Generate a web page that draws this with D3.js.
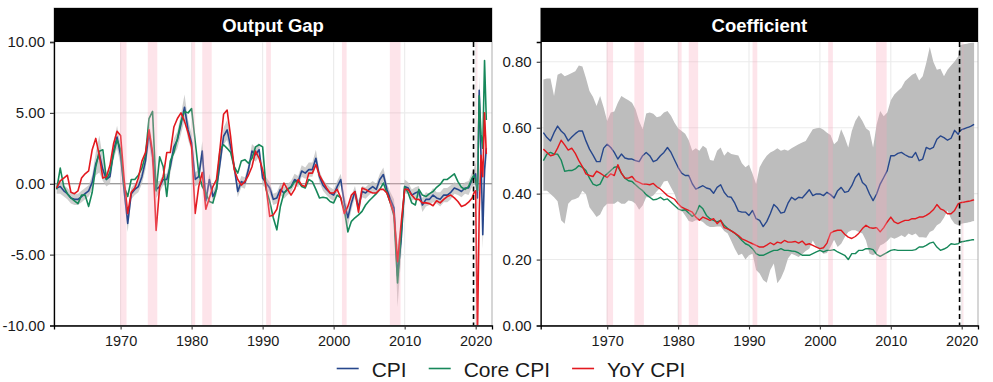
<!DOCTYPE html>
<html>
<head>
<meta charset="utf-8">
<script src="https://cdn.jsdelivr.net/npm/d3@7"></script>
<style>
body { margin: 0; background: #fff; }
svg { display: block; font-family: "Liberation Sans", Arial, sans-serif; }
</style>
</head>
<body>
<div id="display"></div>
<script>
// half-year steps to 2019.5, then quarters
var dates = d3.range(1961, 2020, 0.5).concat([2019.75, 2020, 2020.25, 2020.5, 2020.75, 2021, 2021.25, 2021.5, 2021.75]);

var seriesNames = ["CPI", "Core CPI", "YoY CPI"];
var panelTitles = ["Output Gap", "Coefficient"];

var recessionStart = [1969.92, 1973.83, 1980.0, 1981.5, 1990.5, 2001.17, 2007.92, 2020.08];
var recessionEnd = [1970.83, 1975.17, 1980.5, 1982.83, 1991.17, 2001.83, 2009.42, 2020.25];
var sampleEnd = 2019.7;

// output gap (left)
var gapCpi = [
  -0.3,-0.2,-0.5,-0.7,-1.0,-1.1,-1.1,-0.9,-0.7,-0.5,
  0.1,1.4,2.1,1.0,0.3,0.5,2.3,3.3,2.0,-0.5,
  -2.8,-0.7,-0.4,-0.2,0.5,1.6,3.6,2.0,-0.4,-0.2,
  0.3,0.3,1.2,2.6,3.1,4.2,5.4,3.8,2.9,0.3,
  0.5,2.3,-1.2,0.3,-0.9,-0.4,1.45,3.35,3.8,2.6,
  1.2,-0.55,0.15,0.05,1.0,2.3,2.05,2.4,0.4,0.05,
  -0.3,-1.1,-1.0,-0.4,-0.65,-0.4,-0.2,0.3,0.15,0.9,
  0.75,1.0,1.0,1.8,0.5,-0.1,-0.4,-0.65,-0.8,-0.2,
  0.3,-1.35,-2.4,-1.35,-0.55,-1.7,-0.55,-0.65,-0.4,-0.2,
  -0.4,0.3,0.65,-0.4,-1.1,-1.7,-6.5,-4.0,-0.2,-0.3,
  -0.8,-0.65,-0.55,-1.5,-1.1,-1.1,-0.8,-1.0,-1.1,-0.8,
  -0.8,-0.6,-0.3,-0.4,-0.55,-0.3,-0.3,0.3,
  0.5,0.7,-1.0,6.6,2.0,-3.6,1.0,2.5,null];
var gapCore = [
  -0.4,1.1,-0.2,-0.7,-1.0,-1.2,-1.4,-0.8,-0.8,-1.6,
  -0.6,1.2,2.3,2.4,0.3,0.8,2.1,3.1,2.4,-0.2,
  -0.9,0.3,0.3,0.6,1.1,2.0,4.6,5.1,-0.5,1.9,
  1.2,-0.9,1.6,2.2,3.2,4.4,5.1,5.0,5.3,3.0,
  0.75,-0.2,-0.65,-1.25,-1.35,-0.4,2.4,2.75,2.5,2.2,
  1.2,0.75,1.6,1.7,1.45,1.8,2.6,2.75,2.6,-0.4,
  -1.25,-2.4,-3.25,-1.6,-0.65,-0.4,-0.25,0.15,0.15,-0.2,
  -0.3,0.3,0.15,-0.4,-1.0,-0.95,-1.0,-1.25,-1.35,-0.8,
  -1.0,-1.85,-3.4,-2.65,-2.4,-2.2,-1.95,-1.5,-1.2,-0.95,
  -0.7,-0.4,0.05,-0.65,-1.35,-2.3,-7.0,-3.5,-0.2,-0.65,
  -1.35,-1.5,-0.4,-0.8,-0.9,-0.7,-0.55,-0.25,-0.05,0.3,
  0.3,0.5,0.7,0.15,-0.25,-0.4,-0.2,0.4,
  0.6,0.3,-0.5,6.2,3.5,2.5,8.7,4.5,null];
var gapYoy = [
  -0.3,0.2,0.4,0.6,-0.6,-0.7,-0.5,0.4,0.7,0.9,
  2.4,3.2,2.0,0.4,0.5,1.3,2.8,3.7,3.4,0.3,
  -2.1,-0.6,-0.3,0.4,1.6,2.2,3.8,2.2,-3.3,-0.2,
  0.5,2.2,2.2,4.0,4.6,5.0,4.4,3.6,2.6,-2.1,
  -0.2,0.8,-1.8,-1.0,-0.2,0.3,2.5,4.9,5.2,3.3,
  1.0,0.3,-0.1,0.15,0.6,1.2,2.3,1.8,1.0,-0.3,
  -2.3,-2.2,-1.8,-0.65,0.05,-0.4,-0.8,-0.4,0.3,-0.1,
  -0.2,0.75,0.75,1.35,0.6,0.15,-0.3,-0.65,-0.65,-0.4,
  -1.0,-2.1,-1.6,-0.8,-0.55,-2.0,-0.3,-0.4,-0.55,-0.65,
  -0.65,-0.4,-0.4,-0.65,-1.35,-2.1,-5.5,-2.8,-0.4,-0.4,
  -0.8,-1.1,-1.1,-1.35,-1.35,-1.4,-1.55,-1.2,-1.35,-1.1,
  -0.9,-0.8,-1.0,-1.25,-1.6,-1.5,-1.3,-1.0,
  -0.65,-0.5,-10.8,-2.0,2.0,0.5,5.0,2.1,null];
// half width of the grey band round the CPI gap
var gapBand = [
  0.4,0.5,0.4,0.4,0.4,0.4,0.4,0.4,0.4,0.4,
  0.5,0.8,1.3,0.8,0.5,0.5,0.6,0.8,0.7,0.5,
  0.6,0.4,0.4,0.4,0.5,0.6,0.8,0.8,0.6,0.4,
  0.4,0.4,0.5,0.6,0.6,0.7,0.9,0.7,0.6,0.5,
  0.5,0.7,0.5,0.4,0.4,0.4,0.5,0.6,0.7,0.6,
  0.5,0.4,0.4,0.4,0.4,0.5,0.5,0.5,0.5,0.4,
  0.4,0.4,0.4,0.4,0.4,0.4,0.4,0.4,0.4,0.4,
  0.4,0.5,0.5,0.6,0.4,0.4,0.4,0.4,0.4,0.4,
  0.4,0.5,0.6,0.5,0.4,0.5,0.4,0.4,0.4,0.4,
  0.4,0.4,0.5,0.4,0.5,0.6,2.2,1.2,0.5,0.4,
  0.4,0.4,0.4,0.5,0.5,0.4,0.5,0.4,0.5,0.5,
  0.5,0.5,0.4,0.4,0.4,0.4,0.5,0.5,
  0.6,0.8,1.0,1.0,1.0,1.0,1.0,1.0,null];

// coefficient (right)
var coefCpi = [
  0.585,0.57,0.56,0.585,0.605,0.59,0.58,0.56,0.572,0.582,
  0.59,0.59,0.56,0.535,0.517,0.497,0.497,0.538,0.55,0.54,
  0.525,0.505,0.52,0.508,0.505,0.505,0.5,0.497,0.515,0.525,
  0.515,0.497,0.502,0.515,0.525,0.54,0.525,0.502,0.48,0.462,
  0.455,0.455,0.43,0.414,0.419,0.424,0.417,0.414,0.401,0.419,
  0.427,0.404,0.391,0.389,0.371,0.347,0.344,0.344,0.334,0.349,
  0.324,0.319,0.30,0.315,0.339,0.367,0.357,0.341,0.344,0.371,
  0.389,0.381,0.389,0.387,0.399,0.412,0.394,0.399,0.399,0.394,
  0.404,0.397,0.387,0.409,0.419,0.404,0.407,0.424,0.449,0.462,
  0.434,0.424,0.399,0.379,0.399,0.429,0.449,0.47,0.515,0.515,
  0.522,0.525,0.518,0.512,0.51,0.525,0.5,0.505,0.54,0.535,
  0.54,0.565,0.575,0.57,0.562,0.568,0.592,0.58,
  0.59,0.594,0.596,0.598,0.6,0.602,0.604,0.607,0.61];
var coefCore = [
  0.5,0.52,0.525,0.52,0.52,0.502,0.468,0.47,0.47,0.475,
  0.485,0.48,0.47,0.447,0.429,0.424,0.429,0.451,0.46,0.47,
  0.48,0.482,0.462,0.447,0.439,0.437,0.427,0.417,0.409,0.397,
  0.389,0.381,0.383,0.389,0.381,0.384,0.374,0.364,0.354,0.349,
  0.351,0.341,0.331,0.339,0.364,0.354,0.334,0.324,0.319,0.314,
  0.319,0.304,0.294,0.287,0.28,0.27,0.258,0.248,0.243,0.233,
  0.218,0.213,0.213,0.218,0.223,0.228,0.228,0.233,0.228,0.228,
  0.226,0.225,0.22,0.213,0.213,0.213,0.218,0.223,0.228,0.223,
  0.228,0.228,0.23,0.223,0.218,0.213,0.2,0.218,0.218,0.228,
  0.228,0.233,0.233,0.23,0.216,0.21,0.216,0.222,0.228,0.23,
  0.228,0.228,0.228,0.228,0.228,0.23,0.238,0.238,0.243,0.25,
  0.253,0.238,0.228,0.232,0.238,0.248,0.246,0.248,
  0.252,0.254,0.255,0.256,0.257,0.258,0.259,0.26,0.26];
var coefYoy = [
  0.535,0.525,0.515,0.518,0.538,0.562,0.548,0.532,0.538,0.522,
  0.5,0.482,0.46,0.455,0.452,0.468,0.462,0.455,0.449,0.46,
  0.455,0.488,0.462,0.447,0.447,0.452,0.439,0.434,0.429,0.429,
  0.427,0.431,0.421,0.414,0.404,0.394,0.389,0.383,0.369,0.359,
  0.354,0.349,0.344,0.329,0.319,0.329,0.324,0.319,0.324,0.309,
  0.319,0.297,0.293,0.287,0.28,0.273,0.263,0.258,0.253,0.248,
  0.243,0.238,0.238,0.244,0.251,0.245,0.253,0.25,0.258,0.253,
  0.253,0.255,0.25,0.256,0.245,0.248,0.243,0.238,0.233,0.236,
  0.25,0.28,0.286,0.289,0.289,0.277,0.268,0.264,0.27,0.28,
  0.294,0.304,0.297,0.295,0.297,0.284,0.297,0.314,0.329,0.314,
  0.309,0.314,0.319,0.319,0.324,0.324,0.329,0.329,0.334,0.341,
  0.351,0.367,0.354,0.349,0.339,0.339,0.349,0.369,
  0.372,0.373,0.374,0.375,0.376,0.377,0.378,0.38,0.381];
var coefHigh = [
  0.746,0.749,0.749,0.696,0.761,0.766,0.756,0.761,0.766,0.771,
  0.789,0.786,0.751,0.711,0.693,0.666,0.696,0.661,0.62,0.646,
  0.649,0.676,0.696,0.689,0.683,0.676,0.656,0.62,0.595,0.643,
  0.646,0.642,0.632,0.635,0.646,0.651,0.636,0.615,0.598,0.59,
  0.582,0.562,0.53,0.538,0.53,0.545,0.538,0.502,0.5,0.53,
  0.54,0.515,0.528,0.52,0.518,0.516,0.492,0.48,0.488,0.46,
  0.429,0.48,0.5,0.515,0.525,0.53,0.538,0.53,0.534,0.53,
  0.538,0.544,0.55,0.555,0.56,0.578,0.595,0.598,0.6,0.594,
  0.585,0.578,0.55,0.56,0.595,0.57,0.54,0.59,0.62,0.638,
  0.62,0.598,0.59,0.54,0.61,0.651,0.635,0.646,0.683,0.701,
  0.711,0.721,0.741,0.751,0.761,0.766,0.743,0.756,0.796,0.845,
  0.80,0.776,0.779,0.756,0.776,0.789,0.801,0.816,
  0.85,0.852,0.853,0.854,0.855,0.856,0.857,0.858,0.858];
var coefLow = [
  0.409,0.409,0.399,0.389,0.377,0.319,0.309,0.369,0.381,0.384,
  0.389,0.409,0.399,0.359,0.344,0.329,0.337,0.359,0.369,0.369,
  0.369,0.377,0.369,0.369,0.379,0.377,0.369,0.351,0.364,0.389,
  0.389,0.394,0.407,0.419,0.437,0.439,0.419,0.399,0.367,0.349,
  0.334,0.317,0.314,0.319,0.319,0.314,0.304,0.299,0.299,0.3,
  0.3,0.287,0.279,0.256,0.233,0.213,0.218,0.2,0.213,0.218,
  0.168,0.158,0.138,0.13,0.168,0.188,0.128,0.143,0.168,0.203,
  0.218,0.213,0.208,0.216,0.226,0.233,0.258,0.238,0.228,0.218,
  0.22,0.238,0.26,0.238,0.248,0.268,0.284,0.289,0.289,0.284,
  0.279,0.258,0.218,0.213,0.22,0.243,0.248,0.256,0.268,0.263,
  0.268,0.274,0.268,0.279,0.274,0.279,0.268,0.268,0.266,0.284,
  0.289,0.304,0.311,0.327,0.349,0.324,0.309,0.304,
  0.307,0.309,0.31,0.311,0.312,0.313,0.314,0.316,0.317];

var gapTicks = [-10, -5, 0, 5, 10];
var coefTicks = [0, 0.2, 0.4, 0.6, 0.8];
var yearTicks = [1970, 1980, 1990, 2000, 2010, 2020];

var colors = ["#27478c", "#17885a", "#e3191f"];

var width = 993, height = 382;
var plotTop = 42, plotBottom = 325.5, stripTop = 8;

var svg = d3.select("#display")
    .append("svg")
    .attr("width", width)
    .attr("height", height);

var idx = d3.range(dates.length);

function drawPanel(p) {
  var x = d3.scaleLinear().domain([1960.62, 2022.3]).range([p.left, p.right]);
  var y = d3.scaleLinear().domain(p.yDomain).range([plotBottom, plotTop]);
  var g = svg.append("g");

  g.append("clipPath").attr("id", p.id + "-clip")
    .append("rect")
      .attr("x", p.left).attr("y", plotTop)
      .attr("width", p.right - p.left).attr("height", plotBottom - plotTop);

  // grid
  g.append("g").selectAll("line").data(yearTicks).join("line")
      .attr("x1", d => x(d)).attr("x2", d => x(d))
      .attr("y1", plotTop).attr("y2", plotBottom)
      .attr("stroke", "#ebebeb").attr("stroke-width", 1.1);
  g.append("g").selectAll("line").data(p.ticks).join("line")
      .attr("x1", p.left).attr("x2", p.right)
      .attr("y1", d => y(d)).attr("y2", d => y(d))
      .attr("stroke", "#ebebeb").attr("stroke-width", 1.1);

  if (p.zeroLine) {
    g.append("line")
        .attr("x1", p.left).attr("x2", p.right)
        .attr("y1", y(0)).attr("y2", y(0))
        .attr("stroke", "#808080").attr("stroke-width", 1.1);
  }

  var body = g.append("g").attr("clip-path", "url(#" + p.id + "-clip)");

  var area = d3.area()
      .defined(i => p.low(i) != null)
      .x(i => x(dates[i]))
      .y0(i => y(p.low(i)))
      .y1(i => y(p.high(i)));
  body.append("path")
      .datum(idx)
      .attr("fill", "#bdbdbd")
      .attr("opacity", p.bandOpacity)
      .attr("d", area);

  p.series.forEach(function(s, k) {
    var line = d3.line()
        .defined(i => s[i] != null)
        .x(i => x(dates[i]))
        .y(i => y(s[i]));
    body.append("path")
        .datum(idx)
        .attr("fill", "none")
        .attr("stroke", colors[k])
        .attr("stroke-width", p.lineWidth)
        .attr("stroke-linejoin", "round")
        .attr("d", line);
  });

  // recessions on top
  body.append("g").selectAll("rect").data(recessionStart).join("rect")
      .attr("x", d => x(d))
      .attr("width", (d, i) => x(recessionEnd[i]) - x(d))
      .attr("y", plotTop).attr("height", plotBottom - plotTop)
      .attr("fill", "#f8a5b8").attr("opacity", 0.3);

  g.append("line")
      .attr("x1", x(sampleEnd)).attr("x2", x(sampleEnd))
      .attr("y1", plotTop).attr("y2", plotBottom)
      .attr("stroke", "#000").attr("stroke-width", 1.6)
      .attr("stroke-dasharray", "5,3.5");

  // frame + strip
  g.append("rect")
      .attr("x", p.left).attr("y", stripTop)
      .attr("width", p.right - p.left).attr("height", plotBottom - stripTop)
      .attr("fill", "none").attr("stroke", "#9a9a9a").attr("stroke-width", 0.8);
  g.append("rect")
      .attr("x", p.left).attr("y", stripTop)
      .attr("width", p.right - p.left).attr("height", plotTop - stripTop)
      .attr("fill", "#000");
  g.append("text")
      .attr("x", (p.left + p.right) / 2).attr("y", 32)
      .attr("text-anchor", "middle")
      .attr("fill", "#fff")
      .style("font-size", "18.5px").style("font-weight", "bold")
      .text(p.title);

  var yAxis = d3.axisLeft(y).tickValues(p.ticks).tickSize(4).tickPadding(5)
      .tickFormat(d => d.toFixed(2));
  var ya = g.append("g").attr("transform", "translate(" + p.left + ",0)").call(yAxis);
  var xAxis = d3.axisBottom(x).tickValues(yearTicks).tickSize(4).tickPadding(6)
      .tickFormat(d => String(d));
  var xa = g.append("g").attr("transform", "translate(0," + plotBottom + ")").call(xAxis);

  [ya, xa].forEach(function(a) {
    a.select(".domain").attr("stroke", "#000").attr("stroke-width", 1.3);
    a.selectAll(".tick line").attr("stroke", "#333").attr("stroke-width", 1.1);
    a.selectAll(".tick text").attr("fill", "#1a1a1a")
        .style("font-family", "Liberation Sans, Arial, sans-serif");
  });
  ya.selectAll(".tick text").style("font-size", "15px");
  xa.selectAll(".tick text").style("font-size", "14.5px");
}

drawPanel({
  id: "gap", title: panelTitles[0], left: 54, right: 492,
  yDomain: [-10, 10], ticks: gapTicks, zeroLine: true,
  series: [gapCpi, gapCore, gapYoy], lineWidth: 1.6,
  low: i => gapCpi[i] == null ? null : gapCpi[i] - gapBand[i],
  high: i => gapCpi[i] + gapBand[i],
  bandOpacity: 0.75
});

drawPanel({
  id: "coef", title: panelTitles[1], left: 540.7, right: 978,
  yDomain: [0, 0.86], ticks: coefTicks, zeroLine: false,
  series: [coefCpi, coefCore, coefYoy], lineWidth: 1.4,
  low: i => coefLow[i], high: i => coefHigh[i],
  bandOpacity: 1
});

// legend
var legend = svg.append("g").style("font-size", "21px");
var lx = 336.7, ly = 368.5;
seriesNames.forEach(function(name, k) {
  legend.append("line")
      .attr("x1", lx).attr("x2", lx + 22)
      .attr("y1", ly).attr("y2", ly)
      .attr("stroke", colors[k]).attr("stroke-width", 1.6);
  var t = legend.append("text")
      .attr("x", lx + 35).attr("y", ly + 8)
      .attr("fill", "#1a1a1a")
      .text(name);
  lx = lx + 35 + t.node().getComputedTextLength() + 22;
});
</script>
</body>
</html>
